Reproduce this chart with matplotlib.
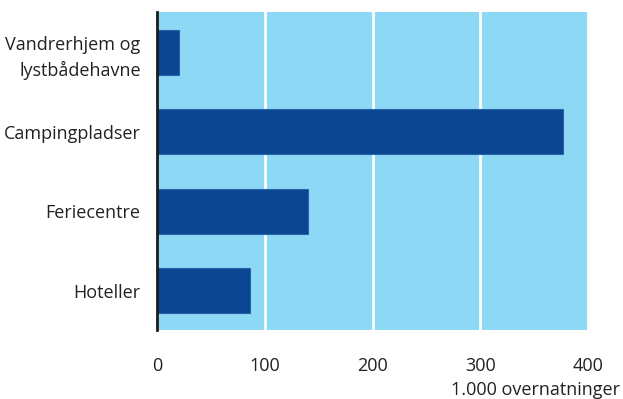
import matplotlib.pyplot as plt

categories = ['Vandrerhjem og\nlystbådehavne', 'Campingpladser', 'Feriecentre', 'Hoteller']
values = [20, 377, 140, 86]
xticks = [0, 100, 200, 300, 400]

plt.rcParams['font.family'] = ['Open Sans', 'DejaVu Sans']

fig = plt.figure(figsize=(6.23, 3.99), dpi=100)
ax = fig.add_axes([0.2525, 0.1717, 0.6913, 0.797])
ax.set_facecolor('#8dd8f5')

ypos = list(range(len(categories)))
ax.barh(ypos, values, height=0.57, color='#0a4592', edgecolor='#2a62ab', linewidth=0.8, zorder=3)

ax.set_ylim(len(categories) - 0.5, -0.5)
ax.set_xlim(0, 400)
ax.set_xticks(xticks)
ax.set_xticklabels([str(t) for t in xticks], fontsize=13, color='#222222')
ax.set_yticks(ypos)
ax.set_yticklabels(categories, fontsize=13, color='#222222', linespacing=1.5)

ax.grid(axis='x', color='white', linewidth=2, zorder=1)
ax.tick_params(axis='both', length=0)
ax.tick_params(axis='x', pad=19)
ax.tick_params(axis='y', pad=12)

for s in ['top', 'right', 'bottom']:
    ax.spines[s].set_visible(False)
ax.spines['left'].set_color('#1a1a1a')
ax.spines['left'].set_linewidth(2)
ax.spines['left'].set_zorder(4)

fig.text(0.995, 0.0, '1.000 overnatninger', ha='right', va='bottom', fontsize=13, color='#222222')

plt.savefig('out.png', dpi=100)
